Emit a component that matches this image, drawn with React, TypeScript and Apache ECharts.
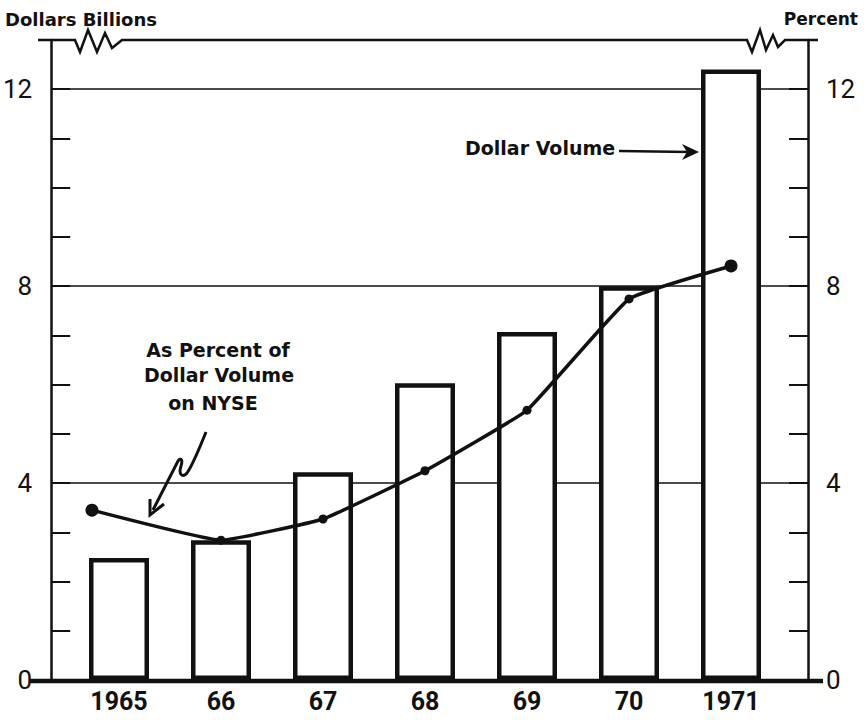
import React, { useEffect, useRef } from "react";
import * as echarts from "echarts";

// ---- data ----
const years = ["1965", "66", "67", "68", "69", "70", "1971"];
const dollarVolume = [2.48, 2.84, 4.22, 6.03, 7.07, 8.0, 12.4]; // $ billions
const percentX = [-0.265, 1, 2, 3, 4, 5, 6]; // category positions of the percent points
const percentOfNyse = [3.45, 2.84, 3.27, 4.25, 5.48, 7.74, 8.41]; // percent
const axisMin = 0;
const axisMax = 13;
const labelledTicks = [0, 4, 8, 12];

const INK = "#111";
const DIGITS = "Roboto, 'Liberation Sans', sans-serif";
const TITLE = "'DejaVu Sans', 'Open Sans', sans-serif";

const squiggleD =
  "M206,432 C200,447 192,466 187,473 C183,478 178,475 181,466 C183,460 181,457 178,461 L153,510";
let registered = false;

export default function App() {
  const ref = useRef<HTMLDivElement>(null);

  useEffect(() => {
    if (!ref.current) return;
    if (!registered) {
      echarts.graphic.registerShape("squiggle", echarts.graphic.extendPath(squiggleD, {}) as any);
      registered = true;
    }
    const chart = echarts.init(ref.current, null, { renderer: "svg" });

    const valueAxisBase = (position: "left" | "right") => ({
      gridIndex: 0,
      type: "value",
      position,
      min: axisMin,
      max: axisMax,
      interval: 1,
      axisLine: { show: true, lineStyle: { color: INK, width: 2.5 } },
      axisTick: { show: true, inside: true, length: 19, lineStyle: { color: INK, width: 2 } },
      axisLabel: {
        show: true,
        margin: position === "left" ? 19 : 18,
        color: INK,
        fontSize: 26,
        fontFamily: DIGITS,
        formatter: (v: number) => (labelledTicks.includes(v) ? String(v) : ""),
      },
      splitLine: { show: false },
    });

    const option: any = {
      animation: false,
      backgroundColor: "#fff",
      grid: [
        { left: 48, right: 59, top: 40, bottom: 40 },
        { left: 68, right: 85, top: 40, bottom: 40 },
      ],
      xAxis: [
        { gridIndex: 0, type: "value", min: 0, max: 1, show: false },
        {
          gridIndex: 1,
          type: "category",
          data: years,
          axisLine: { show: false },
          axisTick: { show: false },
          axisLabel: {
            margin: 9,
            color: INK,
            fontSize: 25,
            fontWeight: "bold",
            fontFamily: DIGITS,
          },
        },
        { gridIndex: 1, type: "value", min: -0.5, max: 6.5, show: false },
      ],
      yAxis: [
        valueAxisBase("left"),
        valueAxisBase("right"),
        {
          gridIndex: 0,
          type: "value",
          min: axisMin,
          max: axisMax,
          interval: 4,
          axisLine: { show: false },
          axisTick: { show: false },
          axisLabel: { show: false },
          splitLine: {
            show: true,
            showMinLine: false,
            showMaxLine: false,
            lineStyle: { color: INK, width: 1.5 },
          },
        },
        { gridIndex: 1, type: "value", min: axisMin, max: axisMax, show: false, name: "Dollars Billions" },
        { gridIndex: 1, type: "value", position: "right", min: axisMin, max: axisMax, show: false, name: "Percent" },
      ],
      series: [
        {
          name: "Dollar Volume",
          type: "bar",
          xAxisIndex: 1,
          yAxisIndex: 3,
          data: dollarVolume,
          barWidth: 60,
          itemStyle: { color: "#fff", borderColor: INK, borderWidth: 4.5 },
          z: 2,
        },
        {
          name: "As Percent of Dollar Volume on NYSE",
          type: "line",
          xAxisIndex: 2,
          yAxisIndex: 4,
          data: percentX.map((x, i) => ({
            value: [x, percentOfNyse[i]],
            symbolSize: i === 0 || i === percentX.length - 1 ? 13 : 9,
          })),
          symbol: "circle",
          showSymbol: true,
          smooth: 0.1,
          lineStyle: { color: INK, width: 3.5 },
          itemStyle: { color: INK },
          z: 3,
        },
      ],
      graphic: [
        {
          type: "polyline",
          z: 10,
          shape: {
            points: [
              [38, 40], [75, 40], [80, 52], [88, 30], [97, 52], [105, 33], [112, 48], [122, 40],
              [747, 40], [752, 52], [760, 30], [766, 50], [773, 35], [778, 47], [785, 40], [818, 40],
            ],
          },
          style: { stroke: INK, lineWidth: 2.5, fill: null },
        },
        {
          type: "line",
          z: 10,
          shape: { x1: 30, y1: 681, x2: 823, y2: 681 },
          style: { stroke: INK, lineWidth: 4.5 },
        },
        {
          type: "text",
          z: 10,
          x: 5,
          y: 19,
          style: { text: "Dollars Billions", fill: INK, font: `bold 18px ${TITLE}`, verticalAlign: "middle", align: "left" },
        },
        {
          type: "text",
          z: 10,
          x: 858,
          y: 19,
          style: { text: "Percent", fill: INK, font: `bold 17px ${TITLE}`, verticalAlign: "middle", align: "right" },
        },
        {
          type: "text",
          z: 10,
          x: 465,
          y: 148,
          style: { text: "Dollar Volume", fill: INK, font: `bold 19px ${TITLE}`, verticalAlign: "middle", align: "left" },
        },
        {
          type: "line",
          z: 10,
          shape: { x1: 619, y1: 151, x2: 690, y2: 152 },
          style: { stroke: INK, lineWidth: 2.5 },
        },
        {
          type: "polygon",
          z: 10,
          shape: { points: [[699, 152], [682, 144], [687, 152], [682, 160]] },
          style: { fill: INK },
        },
        {
          type: "text",
          z: 10,
          x: 218,
          y: 350,
          style: { text: "As Percent of", fill: INK, font: `bold 19px ${TITLE}`, verticalAlign: "middle", align: "center" },
        },
        {
          type: "text",
          z: 10,
          x: 219,
          y: 375,
          style: { text: "Dollar Volume", fill: INK, font: `bold 19px ${TITLE}`, verticalAlign: "middle", align: "center" },
        },
        {
          type: "text",
          z: 10,
          x: 213,
          y: 403,
          style: { text: "on NYSE", fill: INK, font: `bold 19px ${TITLE}`, verticalAlign: "middle", align: "center" },
        },
        {
          type: "squiggle",
          z: 10,
          x: 0,
          y: 0,
          style: { stroke: INK, lineWidth: 3, fill: null },
        },
        {
          type: "polyline",
          z: 10,
          shape: { points: [[150, 499], [150, 515], [164, 504]] },
          style: { stroke: INK, lineWidth: 3, fill: null },
        },
      ],
    };

    chart.setOption(option);
    return () => chart.dispose();
  }, []);

  return (
    <div
      ref={ref}
      style={{ position: "absolute", left: 0, top: 0, width: 867, height: 720, background: "#fff" }}
    />
  );
}
